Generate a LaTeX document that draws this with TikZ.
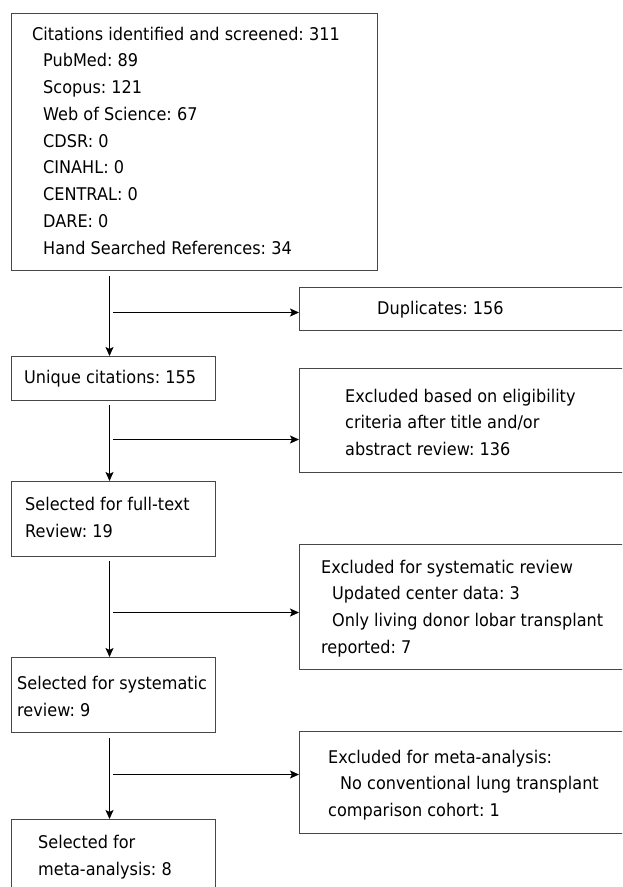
\documentclass[tikz,border=0pt]{standalone}
\usepackage{fontspec}
\setmainfont[FakeStretch=0.92]{DejaVu Sans}
\usetikzlibrary{arrows.meta}
\frenchspacing
\begin{document}
\begin{tikzpicture}[x=1pt,y=-1pt,
  box/.style={draw=black!72, line width=1.2pt, inner sep=0pt, anchor=north west},
  txt/.style={anchor=base west, inner sep=0pt, font=\fontsize{17.5}{20}\selectfont, text=black},
  arr/.style={draw=black, line width=1.1pt, -{Stealth[length=9pt,width=8pt,inset=2pt]}}]
\useasboundingbox (0,0) rectangle (622,887);
\clip (0,0) rectangle (622,887);
% boxes
\node[box, minimum width=366pt, minimum height=257pt] (top) at (11,13) {};
\node[box, minimum width=340pt, minimum height=43pt] (dup) at (299,287) {};
\node[box, minimum width=204pt, minimum height=44pt] (uniq) at (11,356) {};
\node[box, minimum width=340pt, minimum height=104pt] (elig) at (299,368) {};
\node[box, minimum width=204pt, minimum height=75pt] (full) at (11,481) {};
\node[box, minimum width=340pt, minimum height=125.5pt] (sysx) at (299,543.5) {};
\node[box, minimum width=204pt, minimum height=75pt] (sys) at (11,657) {};
\node[box, minimum width=340pt, minimum height=102pt] (metax) at (299,731) {};
\node[box, minimum width=204pt, minimum height=100pt] (meta) at (11,819) {};
% texts
\node[txt] (t1) at (32,40) {Citations identified and screened: 311};
\node[txt] (t2) at (43,66.75) {PubMed: 89};
\node[txt] (t3) at (43,93.5) {Scopus: 121};
\node[txt] (t4) at (43,120.25) {Web of Science: 67};
\node[txt] (t5) at (43,147) {CDSR: 0};
\node[txt] (t6) at (43,173.75) {CINAHL: 0};
\node[txt] (t7) at (43,200.5) {CENTRAL: 0};
\node[txt] (t8) at (43,227.25) {DARE: 0};
\node[txt] (t9) at (43,254) {Hand Searched References: 34};
\node[txt] (d1) at (377,314) {Duplicates: 156};
\node[txt] (u1) at (24,383) {Unique citations: 155};
\node[txt] (e1) at (345,402) {Excluded based on eligibility};
\node[txt] (e2) at (345,428.5) {criteria after title and/or};
\node[txt] (e3) at (345,455) {abstract review: 136};
\node[txt] (f1) at (25,510) {Selected for full-text};
\node[txt] (f2) at (25,537) {Review: 19};
\node[txt] (s1) at (321,573) {Excluded for systematic review};
\node[txt] (s2) at (332,599.5) {Updated center data: 3};
\node[txt] (s3) at (332,626) {Only living donor lobar transplant};
\node[txt] (s4) at (321,653) {reported: 7};
\node[txt] (r1) at (17,689) {Selected for systematic};
\node[txt] (r2) at (17,716) {review: 9};
\node[txt] (m1) at (328,763) {Excluded for meta-analysis:};
\node[txt] (m2) at (340,789.5) {No conventional lung transplant};
\node[txt] (m3) at (328,816) {comparison cohort: 1};
\node[txt] (n1) at (38,848) {Selected for};
\node[txt] (n2) at (38,875) {meta-analysis: 8};
% connectors
\coordinate (v) at (109.5,0);
\coordinate (j1) at (113,312.5);
\coordinate (j2) at (113,439.5);
\coordinate (j3) at (113,612.5);
\coordinate (j4) at (113,774.5);
\draw[arr, shorten <=5pt] (top.south -| v) -- (uniq.north -| v);
\draw[arr, shorten <=4pt] (uniq.south -| v) -- (full.north -| v);
\draw[arr, shorten <=4pt] (full.south -| v) -- (sys.north -| v);
\draw[arr, shorten <=5pt] (sys.south -| v) -- (meta.north -| v);
\draw[arr] (j1) -- (j1 -| dup.west);
\draw[arr] (j2) -- (j2 -| elig.west);
\draw[arr] (j3) -- (j3 -| sysx.west);
\draw[arr] (j4) -- (j4 -| metax.west);
\end{tikzpicture}
\end{document}
